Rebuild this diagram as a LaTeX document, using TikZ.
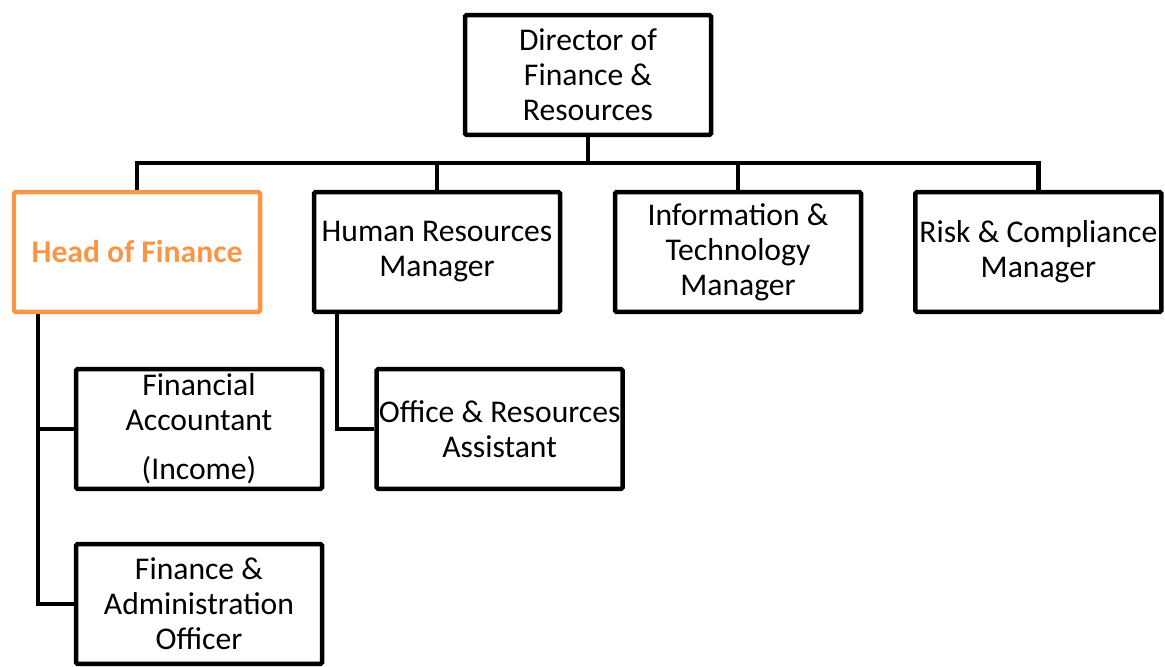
\documentclass[tikz,border=0pt]{standalone}
\usepackage{fontspec}
\setmainfont{Carlito}
\usepackage{xcolor}
\usetikzlibrary{backgrounds}
\definecolor{hofOrange}{HTML}{F79646}

\begin{document}
\begin{tikzpicture}
\tikzstyle{role} = [draw, line width=3.2pt, rounded corners=1pt, minimum width=6.15cm, minimum height=2.99cm, inner sep=0pt, align=center, font=\fontsize{22.5}{24.9}\selectfont]
\tikzstyle{lead} = [role, draw=hofOrange, text=hofOrange, font=\fontsize{22.5}{24.9}\selectfont\bfseries]
\useasboundingbox (0,0) rectangle (29.125,-16.65);

\node[role](D) at (14.7,-1.875) {Director of\\Finance \&\\Resources};
\node[lead](H) at (3.425,-6.3) {Head of Finance};
\node[role](HR) at (10.925,-6.3) {Human Resources\\Manager};
\node[role](IT) at (18.45,-6.3) {Information \&\\Technology\\Manager};
\node[role](R) at (25.96,-6.3) {Risk \& Compliance\\Manager};
\node[role](FA) at (4.975,-10.725) {Financial\\Accountant\\[0.35cm](Income)};
\node[role](OA) at (12.49,-10.725) {Office \& Resources\\Assistant};
\node[role](AO) at (4.975,-15.1) {Finance \&\\Administration\\Officer};

\begin{scope}[on background layer]
\foreach \to in {H, HR, IT, R}
\draw [line width=3.2pt] (D.south) -- ++(0,-0.65) -| (\to.north);
\foreach \to in {FA, AO}
\draw [line width=3.2pt] ([xshift=0.65cm]H.south west) |- (\to.west);
\draw [line width=3.2pt] ([xshift=0.625cm]HR.south west) |- (OA.west);
\end{scope}
\end{tikzpicture}
\end{document}
